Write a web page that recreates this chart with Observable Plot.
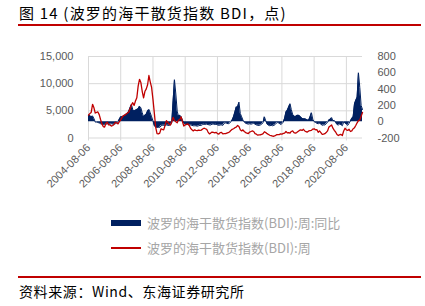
<!DOCTYPE html>
<html><head><meta charset="utf-8">
<script src="https://cdn.jsdelivr.net/npm/d3@7"></script>
<script src="https://cdn.jsdelivr.net/npm/@observablehq/plot@0.6"></script>
<style>
body{margin:0;width:425px;height:306px;position:relative;background:#fff;font-family:"Noto Sans CJK SC",sans-serif;overflow:hidden}
#title{position:absolute;left:19px;top:3px;font-size:15px;line-height:20px;color:#000;letter-spacing:1.2px;white-space:nowrap}
.rule{position:absolute;left:18px;width:403px;height:2px;background:#c00000}
#chart{position:absolute;left:0;top:0}
.leg{position:absolute;left:147px;font-size:13px;line-height:16px;color:#a6a6a6;white-space:nowrap}
.sw{position:absolute;left:111px;width:30px}
#src{position:absolute;left:19px;top:282px;font-size:14px;line-height:18px;color:#000;letter-spacing:0.6px;white-space:nowrap}
</style></head>
<body>
<div id="title">图 14 (波罗的海干散货指数 BDI，点)</div>
<div class="rule" style="top:24px"></div>
<div id="chart"></div>
<div class="sw" style="top:220px;height:6px;background:#002060"></div>
<div class="leg" style="top:215px">波罗的海干散货指数(BDI):周:同比</div>
<div class="sw" style="top:247px;height:1.5px;background:#c00000"></div>
<div class="leg" style="top:240px">波罗的海干散货指数(BDI):周</div>
<div class="rule" style="top:276px"></div>
<div id="src">资料来源：Wind、东海证券研究所</div>
<script>
// first month of the monthly series (day 6 of each month)
const startDate = "2004-08-06";
// BDI weekly level (points), monthly readings, 2004-08 .. 2021-08
const bdi = [
  4200, 4500, 4700, 6200, 5600,                                   // 2004 Aug-Dec
  4600, 4700, 4800, 4300, 3400, 2600, 2100, 2000, 2700, 2900, 2400, 2400, // 2005
  2200, 2300, 2500, 2900, 2800, 2600, 3000, 3300, 3800, 4100, 4200, 4400, // 2006
  4600, 4800, 5400, 6100, 6500, 6000, 6800, 7400, 9600, 10800, 10200, 8600, // 2007
  7400, 8600, 9000, 9800, 11500, 10300, 9300, 7100, 4600, 2000, 800, 750, // 2008
  900, 1700, 1600, 1500, 2300, 3200, 2900, 2600, 2400, 3000, 3800, 3200, // 2009
  3000, 2800, 3300, 3400, 3900, 3000, 2200, 2400, 2500, 2600, 2300, 1800, // 2010
  1500, 1300, 1500, 1400, 1350, 1450, 1400, 1450, 1650, 1800, 1700, 1600, // 2011
  1100, 750, 900, 1100, 1050, 950, 1050, 800, 700, 1000, 1050, 750,       // 2012
  800, 800, 900, 1000, 1100, 1400, 1600, 1700, 1900, 2000, 2300, 2100,    // 2013
  1500, 1300, 1500, 1200, 1000, 900, 800, 1100, 1200, 1300, 1200, 800,    // 2014
  700, 520, 580, 600, 650, 800, 1150, 1000, 800, 650, 500, 450,           // 2015
  350, 320, 420, 600, 620, 620, 750, 700, 850, 900, 1200, 950,            // 2016
  1000, 900, 1200, 1300, 1000, 900, 1000, 1200, 1400, 1500, 1400, 1600,   // 2017
  1300, 1150, 1100, 1300, 1350, 1400, 1650, 1700, 1500, 1550, 1050, 1300, // 2018
  1000, 650, 700, 800, 1000, 1300, 2000, 2200, 2400, 1800, 1400, 1100,    // 2019
  650, 450, 600, 650, 450, 1300, 1800, 1500, 1400, 1600, 1200, 1300,      // 2020
  1700, 1900, 2300, 2800, 3200, 3300, 4000, 4700                          // 2021 Jan-Aug
];
// BDI weekly year-on-year change (%), same months
const yoy = [
  80, 75, 60, 70, 40,
  -5, -5, -10, -15, -25, -30, -35, -35, -30, -25, -30, -30,
  -25, -30, -30, -25, -15, 0, 30, 60, 60, 70, 80, 90,
  100, 130, 170, 210, 150, 130, 140, 150, 160, 190, 170, 110,
  60, 80, 90, 130, 150, 110, 60, 10, -50, -67, -70, -70,
  -70, -50, -45, -45, -45, -40, -45, -45, -40, -10, 260, 515,
  340, 130, 70, 80, 60, 20, -20, -30, -35, -35, -40, -40,
  -45, -50, -50, -50, -55, -50, -45, -45, -35, -30, -35, -30,
  -35, -40, -40, -30, -30, -35, -30, -40, -45, -40, -40, -45,
  -20, -15, -20, -25, -20, 0, 20, 60, 120, 180, 180, 240,
  100, 60, 20, -5, -20, -25, -30, -25, -30, -25, -20, -30,
  -40, -45, -45, -40, -30, -10, 60, 10, -30, -45, -50, -45,
  -50, -45, -35, -15, -10, -20, -35, -25, -5, 40, 120, 140,
  180, 220, 150, 90, 70, 60, 75, 80, 75, 60, 40, 35,
  35, 30, 20, 20, 60, 110, 30, 0, -10, -20, -25, -20,
  -30, -45, -40, -40, -25, -10, 20, 30, 50, 10, 15, -10,
  -35, -40, -30, -35, -50, -5, -15, -30, -45, -20, 10, 40,
  60, 220, 260, 300, 600, 420, 200, 150
];
const xTickLabels = ["2004-08-06","2006-08-06","2008-08-06","2010-08-06","2012-08-06","2014-08-06","2016-08-06","2018-08-06","2020-08-06"];
const leftTicks = [0, 5000, 10000, 15000];
const rightTicks = [-200, 0, 200, 400, 600, 800];

const parse = d3.utcParse("%Y-%m-%d");
const t0 = parse(startDate);
const data = bdi.map((v, i) => ({date: d3.utcMonth.offset(t0, i), bdi: v, yoy: yoy[i]}));
const tickDates = xTickLabels.map(parse);
// right axis (-200..800) mapped onto left scale (0..15000)
const toLeft = r => (r + 200) * 15;
const grid = "#d9d9d9";

const chart = Plot.plot({
  width: 425, height: 200,
  marginLeft: 88, marginRight: 63, marginTop: 56, marginBottom: 62.5,
  x: {type: "utc", domain: [data[0].date, data[data.length - 1].date]},
  y: {domain: [0, 15000]},
  style: {fontFamily: "'Liberation Sans', Arial, sans-serif", fontSize: "11px", color: "#595959", background: "transparent"},
  marks: [
    Plot.ruleY(leftTicks, {stroke: grid}),
    Plot.ruleX(tickDates, {y1: -550, y2: 15000, stroke: grid}),
    Plot.axisY(leftTicks, {anchor: "left", tickSize: 0, tickPadding: 15, tickFormat: d3.format(","), label: null}),
    Plot.axisY(rightTicks.map(toLeft), {anchor: "right", tickSize: 0, tickPadding: 15, tickFormat: v => String(Math.round(v / 15 - 200)), label: null}),
    Plot.axisX(tickDates, {tickRotate: -45, tickSize: 0, tickPadding: 8, tickFormat: d3.utcFormat("%Y-%m-%d"), label: null}),
    Plot.areaY(data, {x: "date", y1: toLeft(0), y2: d => toLeft(d.yoy), fill: "#002060"}),
    Plot.lineY(data, {x: "date", y: d => toLeft(d.yoy), stroke: "#002060", strokeWidth: 1}),
    Plot.lineY(data, {x: "date", y: "bdi", stroke: "#c00000", strokeWidth: 1.3})
  ]
});
document.getElementById("chart").appendChild(chart);
</script>
</body></html>
